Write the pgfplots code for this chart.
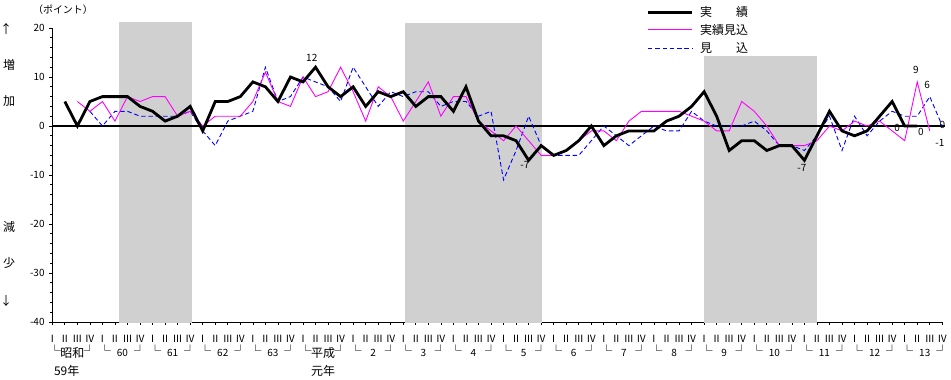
\documentclass[border=0pt]{standalone}
\usepackage{fontspec}
\setmainfont{Noto Sans CJK JP}
\usepackage{pgfplots}
\pgfplotsset{compat=1.18}
\usepackage{pgfplotstable}

\definecolor{shade}{RGB}{208,208,208}
\definecolor{mag}{RGB}{255,0,255}
\definecolor{blu}{RGB}{0,0,255}
\tikzset{
  yl/.style={font=\fontsize{12}{12}\selectfont, inner sep=0pt},
  yn/.style={font=\fontsize{10}{10}\selectfont, inner sep=0pt},
  dl/.style={font=\fontsize{10}{10}\selectfont, inner sep=0pt},
  lg/.style={font=\fontsize{12}{12}\selectfont, inner sep=0pt, anchor=west},
}

\pgfplotstableread{
i v
1 5
2 0
3 5
4 6
5 6
6 6
7 4
8 3
9 1
10 2
11 4
12 -1
13 5
14 5
15 6
16 9
17 8
18 5
19 10
20 9
21 12
22 8
23 6
24 8
25 4
26 7
27 6
28 7
29 4
30 6
31 6
32 3
33 8
34 1
35 -2
36 -2
37 -3
38 -7
39 -4
40 -6
41 -5
42 -3
43 0
44 -4
45 -2
46 -1
47 -1
48 -1
49 1
50 2
51 4
52 7
53 2
54 -5
55 -3
56 -3
57 -5
58 -4
59 -4
60 -7
61 -2
62 3
63 -1
64 -2
65 -1
66 2
67 5
68 0
69 0
}\jisseki

\pgfplotstableread{
i v
2 5
3 3
4 5
5 1
6 6
7 5
8 6
9 6
10 2
11 3
12 0
13 2
14 2
15 2
16 5
17 11
18 5
19 4
20 10
21 6
22 7
23 12
24 7
25 1
26 8
27 6
28 1
29 5
30 9
31 2
32 6
33 6
34 1
35 -1
36 -3
37 0
38 -3
39 -6
40 -6
41 -5
42 -3
43 -1
44 -1
45 -3
46 1
47 3
48 3
49 3
50 3
51 2
52 1
53 -1
54 -1
55 5
56 3
57 0
58 -4
59 -4
60 -4
61 -3
62 0
63 -1
64 1
65 0
66 1
67 -1
68 -3
69 9
70 -1
}\jissekimikomi

\pgfplotstableread{
i v
3 3
4 0
5 3
6 3
7 2
8 2
9 2
10 2
11 3
12 -1
13 -4
14 1
15 2
16 3
17 12
18 5
19 6
20 10
21 9
22 8
23 5
24 12
25 8
26 4
27 7
28 6
29 7
30 7
31 4
32 5
33 5
34 2
35 3
36 -11
37 -5
38 2
39 -4
40 -6
41 -6
42 -6
43 -3
44 0
45 -2
46 -4
47 -2
48 0
49 -1
50 -1
51 3
52 1
53 0
54 0
55 0
56 1
57 -1
58 -4
59 -4
60 -5
61 -2
62 2
63 -5
64 2
65 -2
66 1
67 3
68 2
69 2
70 6
71 0
}\mikomi

\newcommand\yr[2]{%
  \node[yl] at (axis cs:{4*#1+0.2},-45.8) {└};
  \node[yn] at (axis cs:{4*#1+1.6},-46.3) {#2};
  \node[yl] at (axis cs:{4*#1+3.0},-45.8) {┘};
}

\begin{document}
\begin{tikzpicture}
\useasboundingbox (0,0) rectangle (951pt,380pt);
\begin{axis}[
  at={(52.3pt,58pt)}, anchor=south west,
  scale only axis, width=890pt, height=294pt,
  xmin=0, xmax=71, ymin=-40, ymax=20,
  clip=false,
  axis x line*=bottom, axis y line*=left,
  axis line style={line width=0.8pt, -},
  xtick={0,...,71},
  xticklabel={\pgfmathparse{int(mod(round(\tick),4))}\ifcase\pgfmathresult Ⅰ\or Ⅱ\or Ⅲ\or Ⅳ\fi},
  xticklabel style={anchor=center, inner sep=0pt, yshift=-13.5pt, font=\fontsize{10}{10}\selectfont},
  ytick={-40,-30,...,20},
  minor y tick num=4,
  yticklabel style={anchor=east, inner sep=0pt, xshift=-4.5pt, font=\fontsize{10}{10}\selectfont},
  /pgf/number format/assume math mode=true,
  tick align=outside,
  major tick length=3pt, minor tick length=2pt,
  tick style={black, line width=0.7pt},
]
\addplot[draw=none, fill=shade, forget plot] coordinates {(5.35,-40.2) (5.35,21.2) (11.12,21.2) (11.12,-40.2)} -- cycle;
\addplot[draw=none, fill=shade, forget plot] coordinates {(28.14,-40.2) (28.14,21.1) (39.04,21.1) (39.04,-40.2)} -- cycle;
\addplot[draw=none, fill=shade, forget plot] coordinates {(51.99,-40.2) (51.99,14.2) (60.98,14.2) (60.98,-40.2)} -- cycle;
\addplot[black, line width=1.2pt, forget plot] coordinates {(0,0) (71.2,0)};

\addplot[blu, line width=0.9pt, dash pattern=on 4.5pt off 2.8pt] table[x=i,y=v]{\mikomi};
\addplot[mag, line width=0.9pt] table[x=i,y=v]{\jissekimikomi};
\addplot[black, line width=2.8pt] table[x=i,y=v]{\jisseki};

% legend
\addplot[black, line width=2.8pt, forget plot] coordinates {(47.52,23.18) (51.03,23.18)};
\addplot[mag, line width=0.9pt, forget plot] coordinates {(47.52,19.65) (51.03,19.65)};
\addplot[blu, line width=0.9pt, dash pattern=on 4.5pt off 2.8pt, forget plot] coordinates {(47.52,15.92) (51.03,15.92)};
\node[lg] at (axis cs:51.67,23.18) {実　　績};
\node[lg] at (axis cs:51.67,19.65) {実績見込};
\node[lg] at (axis cs:51.67,15.92) {見　　込};

\node[dl] at (axis cs:20.7,14.0) {12};
\node[dl] at (axis cs:37.7,-7.9) {-7};
\node[dl] at (axis cs:59.8,-8.6) {-7};
\node[dl] at (axis cs:68.9,11.4) {9};
\node[dl] at (axis cs:69.8,8.3) {6};
\node[dl] at (axis cs:67.4,-0.3) {0};
\node[dl] at (axis cs:69.3,-1.2) {0};
\node[dl] at (axis cs:70.8,-3.4) {-1};
\node[dl] at (axis cs:71.0,0.3) {0};

\yr{0}{\fontsize{12}{12}\selectfont 昭和}
\yr{1}{60}
\yr{2}{61}
\yr{3}{62}
\yr{4}{63}
\yr{5}{\fontsize{12}{12}\selectfont 平成}
\yr{6}{2}
\yr{7}{3}
\yr{8}{4}
\yr{9}{5}
\yr{10}{6}
\yr{11}{7}
\yr{12}{8}
\yr{13}{9}
\yr{14}{10}
\yr{15}{11}
\yr{16}{12}
\yr{17}{13}
\node[yl] at (axis cs:1.15,-49.9) {59年};
\node[yl] at (axis cs:21.6,-49.9) {元年};
\end{axis}
\node[font=\fontsize{10}{10}\selectfont, inner sep=0pt] at (63pt,370pt) {（ポイント）};
\node[font=\fontsize{12}{12}\selectfont, inner sep=0pt] at (6pt,351pt) {↑};
\node[font=\fontsize{12}{12}\selectfont, inner sep=0pt] at (9pt,315pt) {増};
\node[font=\fontsize{12}{12}\selectfont, inner sep=0pt] at (9pt,279pt) {加};
\node[font=\fontsize{12}{12}\selectfont, inner sep=0pt] at (9pt,153pt) {減};
\node[font=\fontsize{12}{12}\selectfont, inner sep=0pt] at (9pt,117pt) {少};
\node[font=\fontsize{12}{12}\selectfont, inner sep=0pt] at (6pt,79pt) {↓};
\end{tikzpicture}
\end{document}
